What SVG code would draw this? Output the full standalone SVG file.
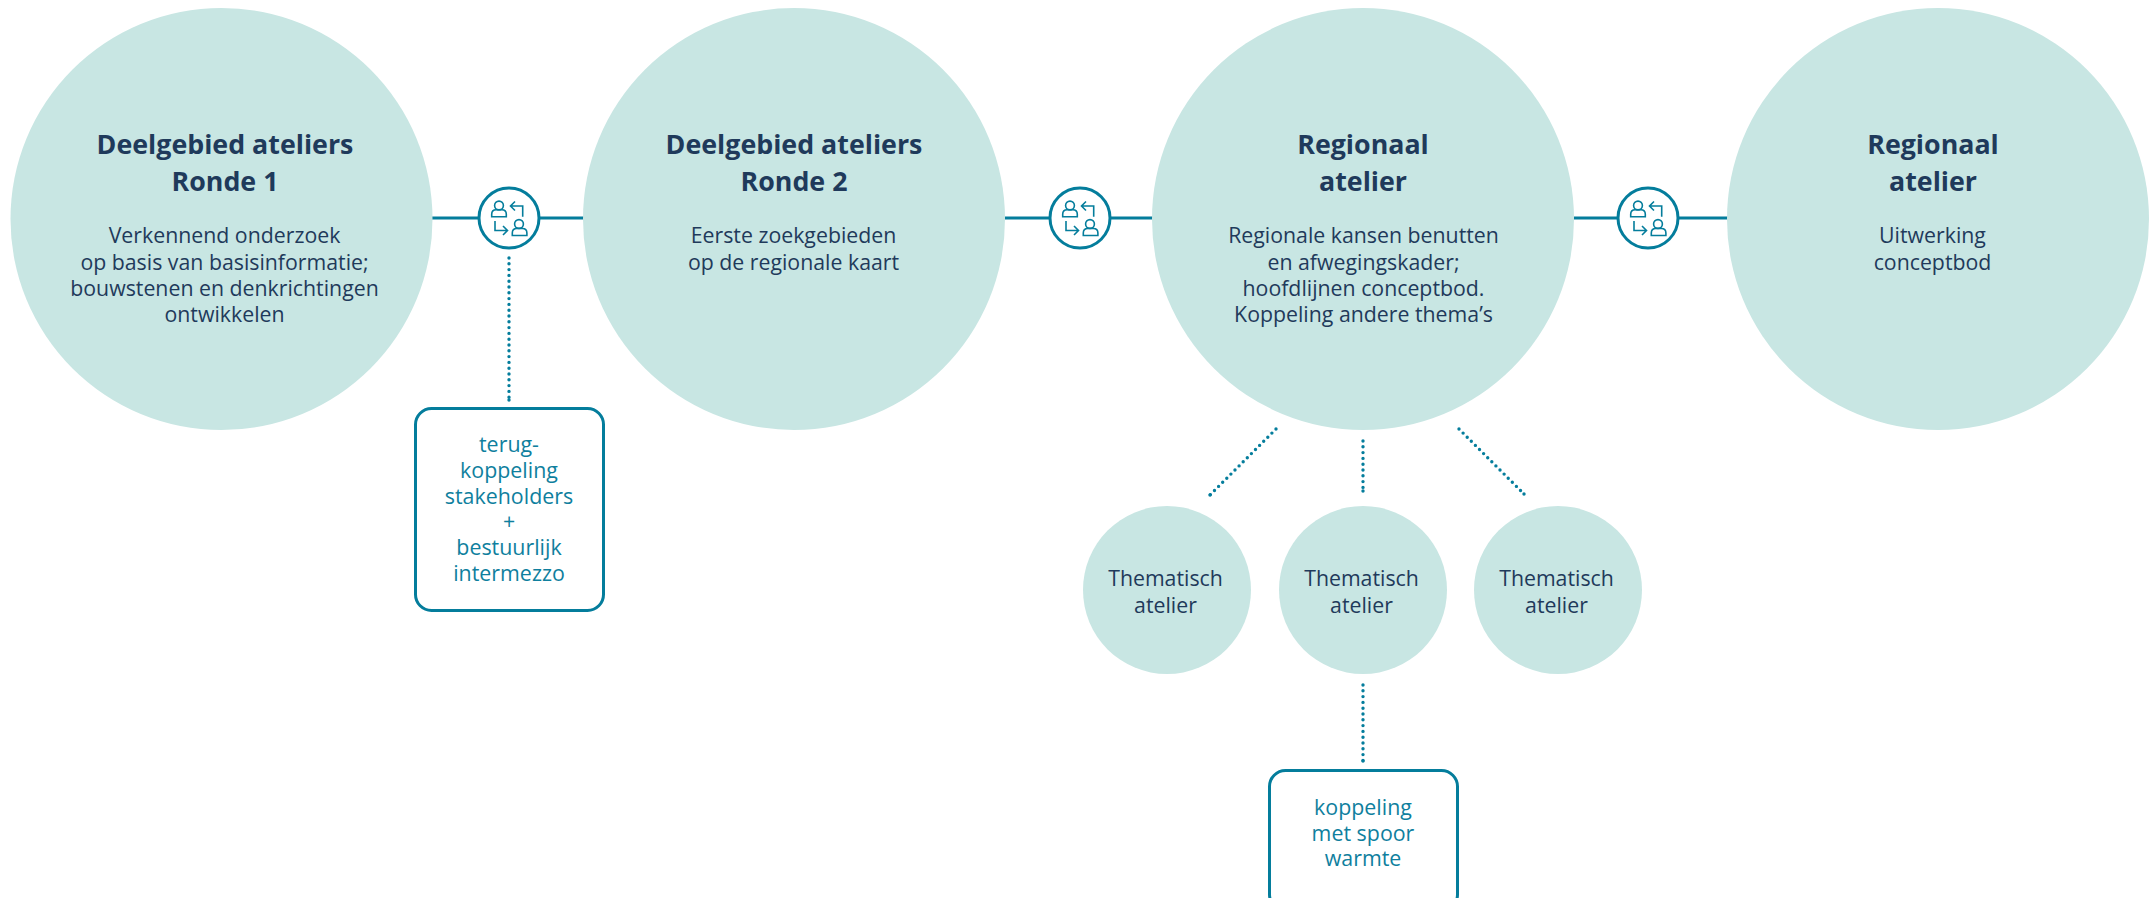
<svg xmlns="http://www.w3.org/2000/svg" width="2152" height="898" viewBox="0 0 2152 898">
<style>
text{font-family:"Open Sans","Noto Sans",sans-serif;text-anchor:middle}
.big{fill:#c8e6e3}
.t{font-size:26.8px;font-weight:700;fill:#1f3a5b}
.b{font-size:21.3px;fill:#1f3a5b}
.c{font-size:21.4px;fill:#0f7f9e}
.ln{stroke:#047d9c;stroke-width:3;fill:none}
.ring{stroke:#047d9c;stroke-width:3;fill:#fff}
.dot{stroke:#047d9c;stroke-width:3.4;fill:none;stroke-linecap:round;stroke-dasharray:0 5.8}
.end{stroke:#047d9c;stroke-width:3.4;fill:none;stroke-linecap:round}
.box{fill:#fff;stroke:#047d9c;stroke-width:3}
.ic{fill:none;stroke:#047d9c;stroke-width:1.6}
</style>
<defs>
<g id="swap">
<circle class="ring" r="30"/>
<g class="ic">
<circle cx="-10" cy="-12.500" r="4.400"/>
<path d="M-17.300-1.300v-2.500q0-4.500 4.500-4.500h5.600q4.500 0 4.500 4.500v2.500z"/>
<path d="M13.700-1.300V-12H1.500M6-16.500L1.500-12 6-7.500"/>
<circle cx="10" cy="6" r="4.400"/>
<path d="M3.300 17.500v-2.500q0-4.500 4.500-4.500h5.600q4.500 0 4.500 4.500v2.500z"/>
<path d="M-14 3V12.500H-1.500M-6 8L-1.500 12.500-6 17"/>
</g>
</g>
</defs>
<g id="connectors">
<path class="ln" d="M432 218H478M540 218H584M1005 218H1049M1111 218H1153M1574 218H1617M1679 218H1728"/>
<path class="dot" d="M509 258V400M1276 429L1210 495M1363 441V491M1459 429L1524 494M1363 685V761"/>
<path class="end" d="M509 400h.01M1210 495h.01M1363 491h.01M1524 494h.01M1363 761h.01"/>
</g>
<g id="n1"><circle class="big" cx="221.500" cy="219" r="211"/>
<text class="t" x="225" y="154">Deelgebied ateliers</text><text class="t" x="225" y="191">Ronde 1</text>
<text class="b" x="224.500" y="243">Verkennend onderzoek</text><text class="b" x="224.500" y="270">op basis van basisinformatie;</text><text class="b" x="224.500" y="296">bouwstenen en denkrichtingen</text><text class="b" x="224.500" y="322">ontwikkelen</text></g>
<g id="n2"><circle class="big" cx="794" cy="219" r="211"/>
<text class="t" x="794" y="154">Deelgebied ateliers</text><text class="t" x="794" y="191">Ronde 2</text>
<text class="b" x="793.500" y="243">Eerste zoekgebieden</text><text class="b" x="793.500" y="270">op de regionale kaart</text></g>
<g id="n3"><circle class="big" cx="1363" cy="219" r="211"/>
<text class="t" x="1363" y="154">Regionaal</text><text class="t" x="1363" y="191">atelier</text>
<text class="b" x="1363.500" y="243">Regionale kansen benutten</text><text class="b" x="1363.500" y="270">en afwegingskader;</text><text class="b" x="1363.500" y="296">hoofdlijnen conceptbod.</text><text class="b" x="1363.500" y="322">Koppeling andere thema’s</text></g>
<g id="n4"><circle class="big" cx="1938" cy="219" r="211"/>
<text class="t" x="1933" y="154">Regionaal</text><text class="t" x="1933" y="191">atelier</text>
<text class="b" x="1932.500" y="243">Uitwerking</text><text class="b" x="1932.500" y="270">conceptbod</text></g>
<g id="s1"><use href="#swap" x="509" y="218"/></g>
<g id="s2"><use href="#swap" x="1080" y="218"/></g>
<g id="s3"><use href="#swap" x="1648" y="218"/></g>
<g id="b1"><rect class="box" x="415.500" y="408.500" width="188" height="202" rx="16"/>
<text class="c" x="509" y="452">terug-</text><text class="c" x="509" y="478">koppeling</text><text class="c" x="509" y="503.500">stakeholders</text><text class="c" x="509" y="529">+</text><text class="c" x="509" y="555">bestuurlijk</text><text class="c" x="509" y="580.500">intermezzo</text></g>
<g id="t1"><circle class="big" cx="1167" cy="590" r="84"/><text class="b" x="1165.500" y="586">Thematisch</text><text class="b" x="1165.500" y="613">atelier</text></g>
<g id="t2"><circle class="big" cx="1363" cy="590" r="84"/><text class="b" x="1361.500" y="586">Thematisch</text><text class="b" x="1361.500" y="613">atelier</text></g>
<g id="t3"><circle class="big" cx="1558" cy="590" r="84"/><text class="b" x="1556.500" y="586">Thematisch</text><text class="b" x="1556.500" y="613">atelier</text></g>
<g id="b2"><rect class="box" x="1269.500" y="770.500" width="188" height="140" rx="16"/>
<text class="c" x="1363" y="815">koppeling</text><text class="c" x="1363" y="841">met spoor</text><text class="c" x="1363" y="866">warmte</text></g>
</svg>
